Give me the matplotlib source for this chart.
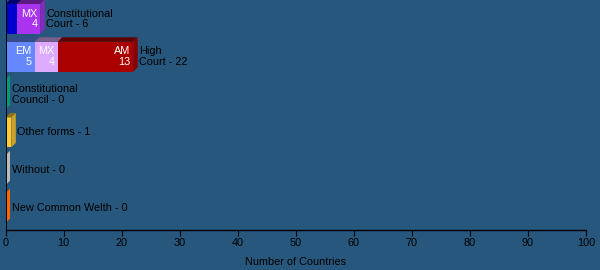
import numpy as np
import matplotlib
matplotlib.use("Agg")
import matplotlib.pyplot as plt
from matplotlib.patches import Polygon
from matplotlib.colors import to_rgb

plt.rcParams["font.family"] = ["Liberation Sans", "DejaVu Sans"]
plt.rcParams["font.size"] = 7.8

# Datos
categorias = ["Constitutional\nCourt", "High\nCourt", "Constitutional\nCouncil",
              "Other forms", "Without", "New Common Welth"]
valores = [[2, 4], [5, 4, 13], [0], [1], [0], [0]]
rotulos = [["EM", "MX"], ["EM", "MX", "AM"], [""], [""], [""], [""]]
cores = [["#0000CC", "#AA33EE"], ["#6688FF", "#DDAAFF", "#AA0000"],
         ["#009977"], ["#FFCC33"], ["#BBBBBB"], ["#FF6600"]]
ticks_x = [0, 10, 20, 30, 40, 50, 60, 70, 80, 90, 100]

fundo = "#27577C"
prof = 4.5  # profundidade 3D em pixels
altura = 0.79

fig = plt.figure(figsize=(6, 2.7), dpi=100, facecolor=fundo)
ax = fig.add_axes([5.5 / 600, 1 - 230 / 270, 580.5 / 600, 230 / 270])
ax.set_facecolor(fundo)
ax.set_xlim(0, 100)
ax.set_ylim(5.58, -0.5)

for s in ["top", "right", "bottom"]:
    ax.spines[s].set_visible(False)
ax.spines["left"].set_color("black")
ax.spines["left"].set_linewidth(0.7)
ax.axhline(5.58, color="black", lw=1, clip_on=False)
ax.set_yticks([])
ax.set_xticks(ticks_x)
ax.tick_params(axis="x", direction="out", length=4, color="black", pad=2)
ax.set_xlabel("Number of Countries", labelpad=6)


def escurecer(c, f):
    return tuple(np.array(to_rgb(c)) * f)


def pix(x, y):
    return ax.transData.transform((x, y))


for i, (vals, rots, cs) in enumerate(zip(valores, rotulos, cores)):
    y_top = i - altura / 2
    y_bot = i + altura / 2
    esq = 0
    for v, r, c in zip(vals, rots, cs):
        ax.barh(i, v, left=esq, height=altura, color=c, linewidth=0)
        # face superior
        a = pix(esq, y_top)
        b = pix(esq + v, y_top)
        topo = [a, b, b + [prof, prof], a + [prof, prof]]
        ax.add_patch(Polygon(topo, closed=True, transform=None,
                             facecolor=escurecer(c, 0.55), edgecolor="none"))
        if v >= 3:
            ax.annotate(f"{r}\n{v}", xy=(esq + v, i), xytext=(-3, 0),
                        textcoords="offset pixels", ha="right", va="center",
                        multialignment="right", color="white", linespacing=1.1)
        esq += v
    # face lateral
    c = cs[-1]
    fator = 0.8 if esq > 0 else 1.0
    a = pix(esq, y_top)
    b = pix(esq, y_bot)
    lado = [a, b, b + [prof, prof], a + [prof, prof]]
    ax.add_patch(Polygon(lado, closed=True, transform=None,
                         facecolor=escurecer(c, fator), edgecolor="none"))
    total = sum(vals)
    ax.annotate(f"{categorias[i]} - {total}", xy=(esq, i), xytext=(prof + 1.5, 0),
                textcoords="offset pixels", ha="left", va="center",
                color="black", linespacing=1.1)

fig.savefig("out.png", dpi=100, facecolor=fundo)
